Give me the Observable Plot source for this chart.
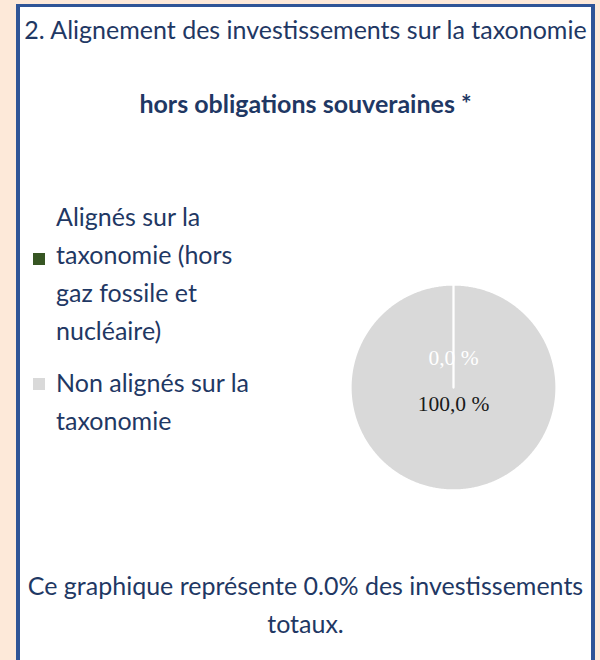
<!DOCTYPE html>
<html><head><meta charset="utf-8">
<script src="https://cdn.jsdelivr.net/npm/d3@7"></script>
<script src="https://cdn.jsdelivr.net/npm/@observablehq/plot@0.6"></script>
<style>
html,body{margin:0;padding:0;}
body{width:600px;height:660px;background:#fde9d9;position:relative;overflow:hidden;font-family:Lato,sans-serif;color:#1f3864;}
#box{position:absolute;left:16px;top:4px;width:579px;height:700px;box-sizing:border-box;background:#fff;border:solid #2f5597;border-width:3px 4px 0 4px;}
.t{position:absolute;line-height:38px;font-size:25px;}
.c{left:20px;width:571px;text-align:center;}
.mk{position:absolute;left:33px;width:12px;height:12px;}
.lab{position:absolute;left:56px;width:208px;line-height:38px;font-size:25px;}
#pie{position:absolute;left:332.5px;top:267px;}
</style></head><body>
<div id="box"></div>
<div id="title" class="t c" style="top:10.3px;white-space:nowrap"></div>
<div id="subtitle" class="t c" style="top:84.3px;font-weight:bold;white-space:nowrap"></div>
<div id="legend"></div>
<div id="pie"></div>
<div id="caption" class="t c" style="top:566.3px"></div>
<script>
// ---- data ----
const title = "2. Alignement des investissements sur la taxonomie";
const subtitle = "hors obligations souveraines *";
const categories = ["Alignés sur la taxonomie (hors gaz fossile et nucléaire)", "Non alignés sur la taxonomie"];
const values = [0.0, 100.0];
const shareOfTotal = 0.0;
const captionText = "Ce graphique représente " + shareOfTotal.toFixed(1) + "% des investissements totaux.";

// ---- styles ----
const sliceColors = ["#375623", "#d9d9d9"];
const labelColors = ["#ffffff", "#1a1a1a"];
const legendTops = [197.3, 363.3];
const markerTops = [252.5, 378];

document.getElementById("title").textContent = title;
document.getElementById("subtitle").textContent = subtitle;
document.getElementById("caption").textContent = captionText;

const legend = d3.select("#legend");
categories.forEach((c, i) => {
  legend.append("div").attr("class", "mk").style("top", markerTops[i] + "px").style("background", sliceColors[i]);
  legend.append("div").attr("class", "lab").style("top", legendTops[i] + "px").text(c);
});

const data = categories.map((c, i) => ({category: c, value: values[i], color: sliceColors[i], labelColor: labelColors[i]}));
const arcs = d3.pie().sort(null).value(d => d.value)(data);
const slices = arcs.map(p => {
  const n = Math.max(2, Math.ceil((p.endAngle - p.startAngle) / (Math.PI / 360)));
  const ring = [[0, 0]];
  for (let i = 0; i <= n; i++) {
    const a = p.startAngle + (p.endAngle - p.startAngle) * i / n;
    ring.push([Math.sin(a), Math.cos(a)]);
  }
  ring.push([0, 0]);
  return {type: "Feature", properties: p.data, geometry: {type: "Polygon", coordinates: [ring]}};
});
const labels = arcs.map(p => {
  const m = (p.startAngle + p.endAngle) / 2;
  const r = p.data.value < 50 ? 0.285 : 0.161;
  return {x: r * Math.sin(m), y: r * Math.cos(m), text: p.data.value.toFixed(1).replace(".", ",") + " %", fill: p.data.labelColor};
});

const chart = Plot.plot({
  width: 240, height: 240, margin: 0,
  style: {background: "transparent"},
  projection: d3.geoIdentity().reflectY(true).scale(103).translate([120, 120]),
  color: {type: "identity"},
  marks: [
    Plot.geo(slices, {fill: d => d.properties.color, stroke: "white", strokeWidth: 2.25}),
    Plot.text(labels, {x: "x", y: "y", text: "text", fill: "fill", fontSize: 21.5, fontFamily: "Liberation Serif"})
  ]
});
document.getElementById("pie").appendChild(chart);
</script>
</body></html>
